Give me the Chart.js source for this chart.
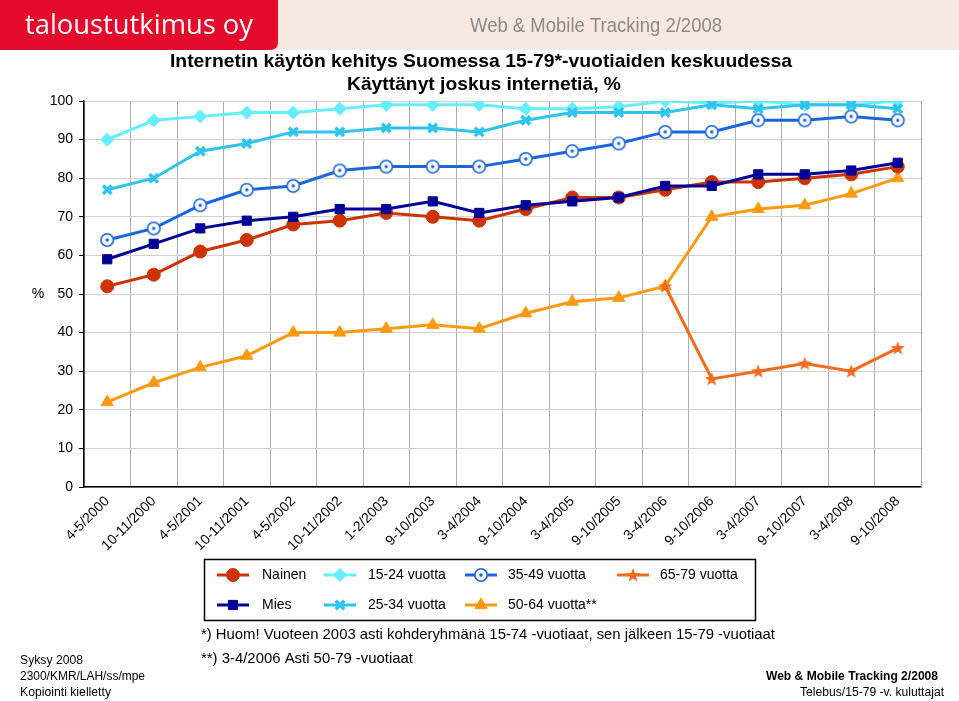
<!DOCTYPE html>
<html>
<head>
<meta charset="utf-8">
<script src="https://cdn.jsdelivr.net/npm/chart.js@4.4.1/dist/chart.umd.min.js"></script>
<style>
  html, body { margin: 0; padding: 0; background: #fff; }
  #wrap { position: relative; width: 959px; height: 701px; }
</style>
</head>
<body>
<div id="wrap"><canvas id="chart" width="959" height="701"></canvas></div>
<script>
// survey waves
const PERIODS = ['4-5/2000', '10-11/2000', '4-5/2001', '10-11/2001', '4-5/2002', '10-11/2002',
  '1-2/2003', '9-10/2003', '3-4/2004', '9-10/2004', '3-4/2005', '9-10/2005',
  '3-4/2006', '9-10/2006', '3-4/2007', '9-10/2007', '3-4/2008', '9-10/2008'];

// % who have ever used the internet
const NAINEN = [52, 55, 61, 64, 68, 69, 71, 70, 69, 72, 75, 75, 77, 79, 79, 80, 81, 83];
const MIES = [59, 63, 67, 69, 70, 72, 72, 74, 71, 73, 74, 75, 78, 78, 81, 81, 82, 84];
const AGE_15_24 = [90, 95, 96, 97, 97, 98, 99, 99, 99, 98, 98, 98.5, 100, 99.5, 100, 99, 99, 100];
const AGE_25_34 = [77, 80, 87, 89, 92, 92, 93, 93, 92, 95, 97, 97, 97, 99, 98, 99, 99, 98];
const AGE_35_49 = [64, 67, 73, 77, 78, 82, 83, 83, 83, 85, 87, 89, 92, 92, 95, 95, 96, 95];
const AGE_50_64 = [22, 27, 31, 34, 40, 40, 41, 42, 41, 45, 48, 49, 52, 70, 72, 73, 76, 80];
const AGE_65_79 = [null, null, null, null, null, null, null, null, null, null, null, null,
  52, 28, 30, 32, 30, 36];

const Y_TICKS = [0, 10, 20, 30, 40, 50, 60, 70, 80, 90, 100];

const FONT = '"Liberation Sans", Arial, sans-serif';

function ringMarker(color) {
  const c = document.createElement('canvas');
  c.width = c.height = 16;
  const g = c.getContext('2d');
  g.fillStyle = '#fff';
  g.strokeStyle = color;
  g.lineWidth = 1.6;
  g.beginPath(); g.arc(8, 8, 6.2, 0, Math.PI * 2); g.fill(); g.stroke();
  g.fillStyle = color;
  g.beginPath(); g.arc(8, 8, 1.7, 0, Math.PI * 2); g.fill();
  return c;
}

function starMarker(color) {
  const c = document.createElement('canvas');
  c.width = c.height = 16;
  const g = c.getContext('2d');
  g.fillStyle = color;
  g.beginPath();
  for (let i = 0; i < 10; i++) {
    const r = i % 2 ? 3 : 7.5;
    const a = -Math.PI / 2 + i * Math.PI / 5;
    g.lineTo(8 + r * Math.cos(a), 8.5 + r * Math.sin(a));
  }
  g.closePath();
  g.fill();
  return c;
}

function series(label, data, color, style, radius, order, pointBorderWidth) {
  return {
    label, data, order,
    borderColor: color,
    backgroundColor: color,
    pointBackgroundColor: color,
    pointBorderColor: color,
    pointStyle: style,
    pointRadius: radius,
    pointHoverRadius: radius,
    pointBorderWidth: pointBorderWidth || 1,
    borderWidth: 3,
    tension: 0,
    spanGaps: false
  };
}

const datasets = [
  series('Nainen', NAINEN, '#CC3300', 'circle', 6.5, 2),
  series('Mies', MIES, '#000099', 'rect', 6.5, 1),
  series('15-24 vuotta', AGE_15_24, '#66EEFF', 'rectRot', 6.5, 5),
  series('25-34 vuotta', AGE_25_34, '#2EC4EE', 'crossRot', 6, 4, 3.5),
  series('35-49 vuotta', AGE_35_49, '#1A66DD', ringMarker('#1A66DD'), 7, 3),
  series('50-64 vuotta**', AGE_50_64, '#FF9910', 'triangle', 7, 6),
  series('65-79 vuotta', AGE_65_79, '#F26A1B', starMarker('#F26A1B'), 7, 0)
];

// legend slots: dataset index, line start x, row, text x
const LEGEND_SLOTS = [
  [0, 217, 0, 262], [1, 217, 1, 262],
  [2, 324, 0, 368], [3, 324, 1, 368],
  [4, 465, 0, 508], [5, 465, 1, 508],
  [6, 617, 0, 660]
];

function fitText(ctx, text, x, y, font, width, align) {
  ctx.save();
  ctx.font = font;
  const w = ctx.measureText(text).width;
  const sx = width / w;
  ctx.textAlign = 'left';
  let x0 = x;
  if (align === 'right') x0 = x - width;
  if (align === 'center') x0 = x - width / 2;
  ctx.translate(x0, y);
  ctx.scale(sx, 1);
  ctx.fillText(text, 0, 0);
  ctx.restore();
}

const decor = {
  id: 'decor',
  beforeDraw(chart) {
    const ctx = chart.ctx;
    ctx.save();
    ctx.fillStyle = '#fff';
    ctx.fillRect(0, 0, chart.width, chart.height);

    // header band
    ctx.fillStyle = '#F7E9DF';
    ctx.fillRect(0, 0, chart.width, 50);
    ctx.fillStyle = '#E30A2C';
    ctx.beginPath();
    ctx.moveTo(0, 0);
    ctx.lineTo(278, 0);
    ctx.lineTo(278, 42);
    ctx.quadraticCurveTo(278, 50, 270, 50);
    ctx.lineTo(0, 50);
    ctx.closePath();
    ctx.fill();

    ctx.fillStyle = '#fff';
    ctx.textBaseline = 'alphabetic';
    fitText(ctx, 'taloustutkimus oy', 25, 34, '27px "Open Sans", sans-serif', 228);
    ctx.fillStyle = '#8A8A8A';
    fitText(ctx, 'Web & Mobile Tracking 2/2008', 470, 32, '20px ' + FONT, 252);

    // titles
    ctx.fillStyle = '#000';
    ctx.textBaseline = 'middle';
    fitText(ctx, 'Internetin käytön kehitys Suomessa 15-79*-vuotiaiden keskuudessa', 481, 62,
      'bold 19px ' + FONT, 622, 'center');
    fitText(ctx, 'Käyttänyt joskus internetiä, %', 484, 85, 'bold 19px ' + FONT, 274, 'center');

    ctx.textAlign = 'center';
    ctx.font = '14px ' + FONT;
    ctx.fillText('%', 38, 294);
    ctx.restore();
  },
  afterDraw(chart) {
    const ctx = chart.ctx;
    const area = chart.chartArea;
    ctx.save();
    // right frame line
    ctx.strokeStyle = '#A8A8A8';
    ctx.lineWidth = 1;
    ctx.beginPath();
    ctx.moveTo(Math.round(area.right) + 0.5, area.top);
    ctx.lineTo(Math.round(area.right) + 0.5, area.bottom);
    ctx.stroke();

    // legend box
    ctx.strokeStyle = '#000';
    ctx.lineWidth = 1.5;
    ctx.strokeRect(204.5, 559.5, 551, 61);
    ctx.font = '14px ' + FONT;
    ctx.textBaseline = 'middle';
    ctx.textAlign = 'left';
    LEGEND_SLOTS.forEach(([i, x, row, tx]) => {
      const d = chart.data.datasets[i];
      const y = 575 + row * 30;
      ctx.strokeStyle = d.borderColor;
      ctx.lineWidth = 3;
      ctx.beginPath();
      ctx.moveTo(x, y);
      ctx.lineTo(x + 32, y);
      ctx.stroke();
      ctx.fillStyle = d.pointBackgroundColor;
      ctx.strokeStyle = d.pointBorderColor;
      ctx.lineWidth = d.pointBorderWidth;
      Chart.helpers.drawPoint(ctx, {
        pointStyle: d.pointStyle, radius: d.pointRadius, rotation: 0, borderWidth: d.pointBorderWidth
      }, x + 16, y);
      ctx.fillStyle = '#000';
      ctx.fillText(d.label, tx, y);
    });

    // footnotes
    ctx.fillStyle = '#000';
    ctx.textBaseline = 'middle';
    fitText(ctx, '*) Huom! Vuoteen 2003 asti kohderyhmänä 15-74 -vuotiaat, sen jälkeen 15-79 -vuotiaat',
      201, 635, '15px ' + FONT, 574);
    fitText(ctx, '**) 3-4/2006 Asti 50-79 -vuotiaat', 201, 659, '15px ' + FONT, 212);

    fitText(ctx, 'Syksy 2008', 20, 661, '12px ' + FONT, 63);
    fitText(ctx, '2300/KMR/LAH/ss/mpe', 20, 677, '12px ' + FONT, 125);
    fitText(ctx, 'Kopiointi kielletty', 20, 693, '12px ' + FONT, 91);
    fitText(ctx, 'Web & Mobile Tracking 2/2008', 938, 677, 'bold 12px ' + FONT, 172, 'right');
    fitText(ctx, 'Telebus/15-79 -v. kuluttajat', 944, 693, '12px ' + FONT, 144, 'right');
    ctx.restore();
  }
};

new Chart(document.getElementById('chart'), {
  type: 'line',
  data: { labels: PERIODS, datasets },
  options: {
    responsive: false,
    animation: false,
    events: [],
    layout: { padding: { top: 101, right: 38, bottom: 0, left: 0 } },
    plugins: {
      legend: { display: false },
      title: { display: false },
      tooltip: { enabled: false }
    },
    scales: {
      x: {
        type: 'category',
        offset: true,
        grid: { offset: true, color: '#ADADAD', lineWidth: 1, drawTicks: false },
        border: { color: '#000', width: 1.5 },
        ticks: {
          autoSkip: false, minRotation: 45, maxRotation: 45, padding: 6,
          color: '#000', font: { family: FONT, size: 14 }
        },
        afterFit(scale) { scale.height = 214; }
      },
      y: {
        min: 0, max: 100,
        afterBuildTicks(scale) { scale.ticks = Y_TICKS.map(v => ({ value: v })); },
        grid: { color: '#D0D0D0', lineWidth: 1, tickLength: 5, tickColor: '#000' },
        border: { color: '#000', width: 1.5 },
        ticks: { padding: 6, color: '#000', font: { family: FONT, size: 14 } },
        afterFit(scale) { scale.width = 84; }
      }
    }
  },
  plugins: [decor]
});
</script>
</body>
</html>
